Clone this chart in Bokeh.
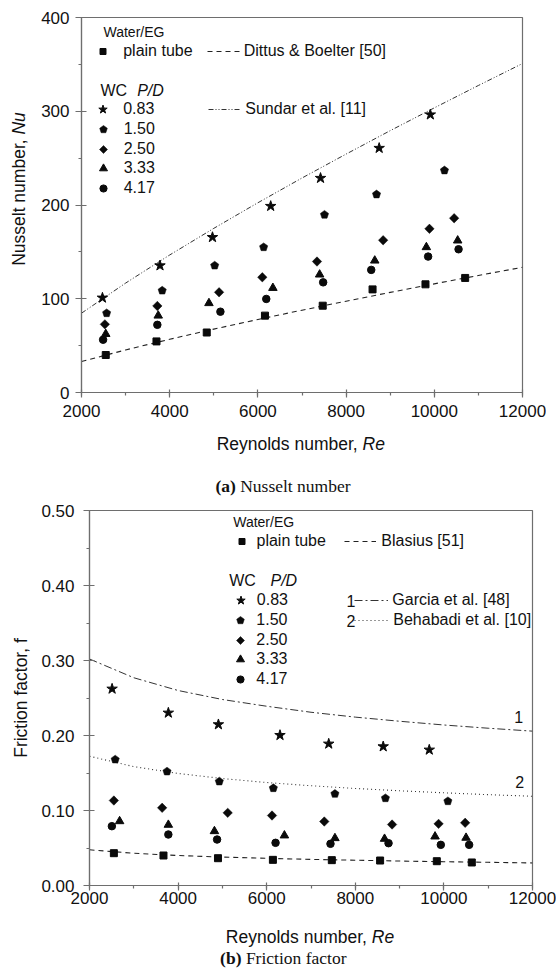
import math
from bokeh.plotting import figure
from bokeh.layouts import column, row
from bokeh.models import (Range1d, SingleIntervalTicker, NumeralTickFormatter,
                          Label, Legend, LegendItem, Div)
from bokeh.embed import file_html
from bokeh.resources import INLINE

# ------------------------------------------------------------------
# (a) Nusselt number
# ------------------------------------------------------------------
re_curve = [2000, 3000, 4000, 5000, 6000, 7000, 8000, 9000, 10000, 11000, 12000]
nu_dittus_boelter = [33.1, 45.4, 56.8, 67.6, 77.9, 87.8, 97.4, 106.8, 115.9, 124.8, 133.6]
nu_sundar = [84.6, 116.7, 146.7, 175.1, 202.4, 228.8, 254.3, 279.3, 303.6, 327.5, 350.9]

re_plain_a = [2550, 3700, 4840, 6160, 7470, 8600, 9800, 10700]
nu_plain = [40.0, 54.5, 64.0, 82.0, 92.6, 110.0, 115.4, 122.2]
re_083_a = [2475, 3780, 4970, 6290, 7420, 8750, 9910]
nu_083 = [101.0, 135.4, 165.6, 198.8, 228.7, 260.7, 296.4]
re_150_a = [2570, 3830, 5020, 6130, 7510, 8690, 10230]
nu_150 = [84.6, 108.7, 135.4, 155.0, 189.6, 211.3, 236.9]
re_250_a = [2530, 3720, 5120, 6100, 7340, 8840, 9890, 10450]
nu_250 = [72.7, 92.3, 106.9, 122.9, 139.7, 162.4, 174.6, 185.9]
re_333_a = [2550, 3740, 4890, 6340, 7400, 8650, 9820, 10530]
nu_333 = [62.4, 82.0, 95.3, 111.5, 125.8, 140.7, 155.0, 162.1]
re_417_a = [2490, 3720, 5150, 6190, 7480, 8570, 9860, 10550]
nu_417 = [56.3, 72.2, 86.2, 99.8, 117.5, 130.8, 145.0, 152.8]

# ------------------------------------------------------------------
# (b) Friction factor
# ------------------------------------------------------------------
f_blasius = [0.0476, 0.0430, 0.0400, 0.0379, 0.0362, 0.0348, 0.0337, 0.0326, 0.0317, 0.0309, 0.0301]
f_garcia = [0.302, 0.277, 0.260, 0.248, 0.239, 0.231, 0.2245, 0.219, 0.214, 0.2097, 0.2058]
f_behabadi = [0.1724, 0.1585, 0.1494, 0.1426, 0.1373, 0.1330, 0.1294, 0.1263, 0.1236, 0.1211, 0.1190]

re_plain_b = [2550, 3670, 4900, 6140, 7470, 8560, 9840, 10630]
f_plain = [0.0431, 0.0400, 0.0364, 0.0342, 0.0338, 0.0333, 0.0324, 0.0307]
re_083_b = [2510, 3780, 4910, 6300, 7400, 8630, 9670]
f_083 = [0.2622, 0.2302, 0.2147, 0.2004, 0.1889, 0.1853, 0.1809]
re_150_b = [2580, 3750, 4930, 6150, 7540, 8680, 10090]
f_150 = [0.168, 0.152, 0.1387, 0.1298, 0.1222, 0.1164, 0.1124]
re_250_b = [2550, 3640, 5120, 6120, 7300, 8830, 9880, 10480]
f_250 = [0.1133, 0.1036, 0.0969, 0.0933, 0.0853, 0.0813, 0.0822, 0.0836]
re_333_b = [2680, 3780, 4820, 6400, 7540, 8660, 9800, 10500]
f_333 = [0.0857, 0.0809, 0.0724, 0.0667, 0.0631, 0.0622, 0.0653, 0.0636]
re_417_b = [2505, 3780, 4880, 6200, 7440, 8750, 9930, 10570]
f_417 = [0.0791, 0.0680, 0.0613, 0.0569, 0.0556, 0.0564, 0.0542, 0.0542]

wc_labels = ["0.83", "1.50", "2.50", "3.33", "4.17"]

# ------------------------------------------------------------------
SANS = "Liberation Sans"
SERIF = "Liberation Serif"
AX = "#6e6e6e"
INK = "#111111"
MK = "#0a0a0a"
FALLBACK = []


def make_fig(width, height, bl, br, bt, bb, yr, y_interval, y_fmt, x_standoff, y_standoff):
    p = figure(width=width, height=height, x_range=Range1d(2000, 12000), y_range=Range1d(*yr),
               output_backend="svg", toolbar_location=None,
               min_border_left=bl, min_border_right=br, min_border_top=bt, min_border_bottom=bb)
    p.xgrid.visible = False
    p.ygrid.visible = False
    p.outline_line_color = AX
    p.outline_line_width = 1.2
    p.background_fill_color = "white"
    p.border_fill_color = "white"
    xa = p.xaxis[0]
    ya = p.yaxis[0]
    xa.ticker = SingleIntervalTicker(interval=2000, num_minor_ticks=2)
    ya.ticker = SingleIntervalTicker(interval=y_interval, num_minor_ticks=2)
    xa.formatter = NumeralTickFormatter(format="0")
    ya.formatter = NumeralTickFormatter(format=y_fmt)
    for ax in (xa, ya):
        ax.axis_line_color = AX
        ax.axis_line_width = 1.2
        ax.major_tick_line_color = AX
        ax.major_tick_line_width = 1.2
        ax.minor_tick_line_color = AX
        ax.minor_tick_line_width = 1.2
        ax.minor_tick_in = 0
        ax.minor_tick_out = 3
        ax.major_label_text_font = SANS
        ax.major_label_text_font_size = "17px"
        ax.major_label_text_color = INK
    xa.major_tick_in = 3
    xa.major_tick_out = 5
    ya.major_tick_in = 5
    ya.major_tick_out = 6
    xa.major_label_standoff = x_standoff
    ya.major_label_standoff = y_standoff
    return p


def text(p, fr, s, px, py, size="16px", font=SANS, style="normal", align="left"):
    p.add_layout(Label(x=px - fr[0], y=fr[1] - py, x_units="screen", y_units="screen",
                       text=s, text_font=font, text_font_size=size, text_font_style=style,
                       text_align=align, text_baseline="middle", text_color=INK))


def legend_row(p, fr, renderer, label, glyph_left, glyph_w, text_left, cy, glyph_h=22):
    lg = Legend(items=[LegendItem(label=label, renderers=[renderer])],
                location=(glyph_left - fr[0], fr[1] - (cy + glyph_h / 2.0)),
                glyph_width=int(glyph_w), glyph_height=glyph_h, label_height=glyph_h,
                label_standoff=max(0, int(round(text_left - glyph_left - glyph_w))),
                spacing=0, padding=0, margin=0, border_line_alpha=0, background_fill_alpha=0,
                label_text_font=SANS, label_text_font_size="16px", label_text_color=INK)
    p.add_layout(lg)


def marker_row(p, fr, renderer, label, cx, glyph_w, text_left, cy):
    legend_row(p, fr, renderer, label, cx - glyph_w / 2.0, glyph_w, text_left, cy)


def polygons(p, xs, ys, n, r_px, ux, uy, fallback_marker, fallback_size, start):
    try:
        return p.ngon(x=xs, y=ys, radius=r_px, radius_units="screen", n=n, angle=0.0,
                      fill_color=MK, line_color=MK, line_width=0.5)
    except Exception:
        FALLBACK.append(n)
        pxs, pys = [], []
        for x, y in zip(xs, ys):
            pxs.append([x + r_px * ux * math.cos(start + 2 * math.pi * k / n) for k in range(n)])
            pys.append([y + r_px * uy * math.sin(start + 2 * math.pi * k / n) for k in range(n)])
        p.patches(pxs, pys, fill_color=MK, line_color=MK, line_width=0.5)
        return p.scatter(x=[], y=[], marker=fallback_marker, size=fallback_size,
                         fill_color=MK, line_color=MK)


def draw_series(p, xs_list, ys_list, ux, uy):
    rs = []
    rs.append(p.scatter(x=xs_list[0], y=ys_list[0], marker="star", size=11, fill_color=MK, line_color=MK))
    rs.append(polygons(p, xs_list[1], ys_list[1], 5, 4.3, ux, uy, "hex", 8, math.pi / 2))
    rs.append(polygons(p, xs_list[2], ys_list[2], 4, 4.7, ux, uy, "diamond", 11, math.pi / 2))
    rs.append(p.scatter(x=xs_list[3], y=ys_list[3], marker="triangle", size=8.5, fill_color=MK, line_color=MK))
    rs.append(p.scatter(x=xs_list[4], y=ys_list[4], marker="circle", size=7.5, fill_color=MK, line_color=MK))
    return rs


def html_label(x, y, inner, size="17.5px", font=SANS, rotate=False):
    tr = "translate(-50%,-50%) rotate(-90deg)" if rotate else "translate(-50%,-50%)"
    return ('<span style="position:absolute;left:%.1fpx;top:%.1fpx;transform:%s;white-space:nowrap;'
            'font-family:\'%s\';font-size:%s;line-height:1;color:%s;">%s</span>'
            % (x, y, tr, font, size, INK, inner))


def html_box(w, h, spans):
    return Div(text='<div style="position:relative;width:%dpx;height:%dpx;">%s</div>' % (w, h, "".join(spans)),
               width=w, height=h, margin=(0, 0, 0, 0))


LEG_W = [23, 20, 20, 20, 18]

# ================== figure (a) ==================
# page layout: left div 31px, plot 515px; frame 81..522 (x), 17..392 (y)
P1_X, P1_H = 31, 428
p1 = make_fig(515, P1_H, 50, 24, 17, 36, (0, 400), 100, "0", 7, 6)
fr1 = (81.0, 392.0)

r_db = p1.line(re_curve, nu_dittus_boelter, line_color="#222222", line_width=1.1, line_dash="5 4")
r_su = p1.line(re_curve, nu_sundar, line_color="#333333", line_width=1.0, line_dash="5 2 1 2 1 2")
r_pl1 = p1.scatter(x=re_plain_a, y=nu_plain, marker="square", size=7, fill_color=MK, line_color=MK)
rs1 = draw_series(p1, [re_083_a, re_150_a, re_250_a, re_333_a, re_417_a],
                  [nu_083, nu_150, nu_250, nu_333, nu_417], 10000 / 441.0, 400 / 375.0)

text(p1, fr1, "Water/EG", 103, 31.7, size="14px")
marker_row(p1, fr1, r_pl1, "plain tube", 102.7, 15, 123.3, 50.7)
legend_row(p1, fr1, r_db, "Dittus & Boelter [50]", 206.7, 33, 243.3, 50.7)
text(p1, fr1, "WC", 100, 90)
text(p1, fr1, "P/D", 136.7, 90, style="italic")
for i, (r, lab, cy) in enumerate(zip(rs1, wc_labels, [109.3, 129.3, 149.0, 168.3, 187.7])):
    marker_row(p1, fr1, r, lab, 102.7, LEG_W[i], 123.3, cy)
legend_row(p1, fr1, r_su, "Sundar et al. [11]", 208.3, 33, 245.7, 109.3)
if FALLBACK:
    text(p1, fr1, "fb", 500, 30, size="8px")

ylab1 = html_box(P1_X, P1_H, [html_label(20, 189, "Nusselt number, <i>Nu</i>", rotate=True)])
capA_top = P1_H
capA = html_box(556, 70, [
    html_label(300.8, 445 - capA_top, "Reynolds number, <i>Re</i>"),
    html_label(283.0, 486.7 - capA_top, "<b>(a)</b> Nusselt number", font=SERIF),
])

# ================== figure (b) ==================
# page layout: left div 38px, plot 518px; frame 88..532 (x), 510..885 (y)
TOP2 = P1_H + 70  # 498
P2_X, P2_H = 38, 413
p2 = make_fig(518, P2_H, 50, 24, 12, 26, (0, 0.5), 0.1, "0.00", 1, 9)
fr2 = (88.0, 885.0)

r_bl = p2.line(re_curve, f_blasius, line_color="#222222", line_width=1.1, line_dash="5 4")
r_ga = p2.line(re_curve, f_garcia, line_color="#333333", line_width=1.0, line_dash="8 3 2 3")
r_be = p2.line(re_curve, f_behabadi, line_color="#333333", line_width=1.1, line_dash="1 3")
r_pl2 = p2.scatter(x=re_plain_b, y=f_plain, marker="square", size=7, fill_color=MK, line_color=MK)
rs2 = draw_series(p2, [re_083_b, re_150_b, re_250_b, re_333_b, re_417_b],
                  [f_083, f_150, f_250, f_333, f_417], 10000 / 444.0, 0.5 / 375.0)

text(p2, fr2, "Water/EG", 231.7, 521.7, size="14px")
marker_row(p2, fr2, r_pl2, "plain tube", 240.0, 15, 255.7, 541.0)
legend_row(p2, fr2, r_bl, "Blasius [51]", 343.3, 32, 380.7, 541.0)
text(p2, fr2, "WC", 227.7, 580)
text(p2, fr2, "P/D", 269.0, 580, style="italic")
for i, (r, lab, cy) in enumerate(zip(rs2, wc_labels, [600.0, 620.0, 640.0, 659.3, 679.0])):
    marker_row(p2, fr2, r, lab, 239.3, LEG_W[i], 255.7, cy)
text(p2, fr2, "1", 345.0, 600.0)
text(p2, fr2, "2", 345.0, 620.0)
legend_row(p2, fr2, r_ga, "Garcia et al. [48]", 353.3, 34, 391.7, 600.0)
legend_row(p2, fr2, r_be, "Behabadi et al. [10]", 353.3, 34, 392.3, 620.0)
text(p2, fr2, "1", 517.3, 716.7, align="center")
text(p2, fr2, "2", 518.3, 781.7, align="center")

ylab2 = html_box(P2_X, P2_H, [html_label(21.7, 697.5 - TOP2, "Friction factor, f", rotate=True)])
capB_top = TOP2 + P2_H  # 911
capB = html_box(556, 56, [
    html_label(310.0, 938.3 - capB_top, "Reynolds number, <i>Re</i>"),
    html_label(283.3, 959.0 - capB_top, "<b>(b)</b> Friction factor", font=SERIF),
])

layout = column(row(ylab1, p1), capA, row(ylab2, p2), capB)
open("out.html", "w").write(file_html(layout, INLINE))
